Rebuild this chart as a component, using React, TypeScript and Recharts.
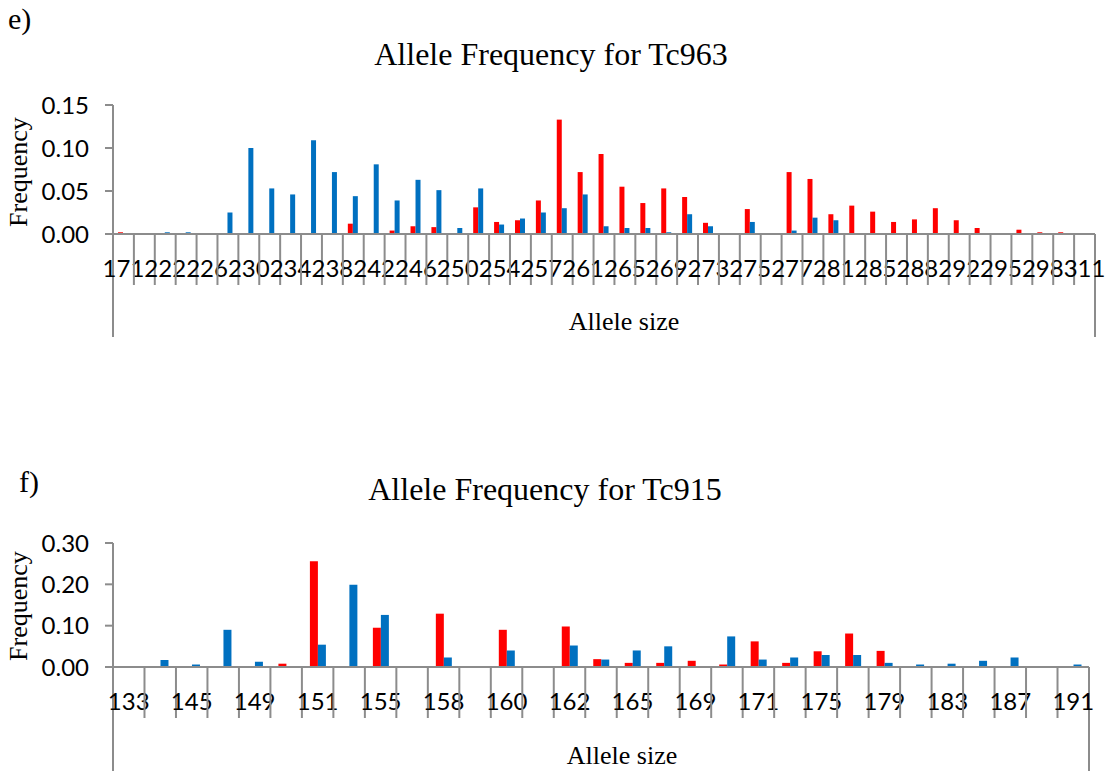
import { BarChart, Bar, XAxis, YAxis } from 'recharts'

const AXIS = '#8c8c8c'
const RED = '#ff0000'
const BLUE = '#0070c0'
const SANS = 'Lato, "Liberation Sans", sans-serif'
const SERIF = '"Liberation Serif", "Times New Roman", serif'

// Tc963 allele sizes (only every other one gets a label on the axis)
const tc963Sizes = [
  171, 220, 222, 224, 226, 228, 230, 232, 234, 236, 238, 240, 242, 244, 246, 248,
  250, 252, 254, 256, 257, 259, 261, 263, 265, 267, 269, 271, 273, 274, 275, 276,
  277, 279, 281, 283, 285, 287, 288, 290, 292, 293, 295, 296, 298, 302, 311,
]
const tc963Red = [
  0.002, 0.001, 0, 0, 0.001, 0, 0, 0, 0, 0.001, 0, 0.012, 0.001, 0.004, 0.009, 0.008,
  0, 0.031, 0.014, 0.016, 0.039, 0.133, 0.072, 0.093, 0.055, 0.036, 0.053, 0.043, 0.013, 0.001, 0.029, 0.001,
  0.072, 0.064, 0.023, 0.033, 0.026, 0.014, 0.017, 0.03, 0.016, 0.007, 0.001, 0.005, 0.002, 0.002, 0.001,
]
const tc963Blue = [
  0, 0, 0.002, 0.002, 0, 0.025, 0.1, 0.053, 0.046, 0.109, 0.072, 0.044, 0.081, 0.039, 0.063, 0.051,
  0.007, 0.053, 0.011, 0.018, 0.025, 0.03, 0.046, 0.009, 0.007, 0.007, 0.002, 0.023, 0.009, 0, 0.014, 0,
  0.004, 0.019, 0.016, 0, 0, 0, 0, 0, 0, 0, 0, 0, 0, 0, 0,
]
const tc963Ticks = [0, 0.05, 0.1, 0.15]

// Tc915
const tc915Sizes = [
  133, 143, 145, 147, 149, 150, 151, 153, 155, 157, 158, 159, 160, 161, 162, 163,
  165, 167, 169, 170, 171, 173, 175, 177, 179, 181, 183, 185, 187, 189, 191,
]
const tc915Red = [
  0, 0, 0, 0, 0, 0.008, 0.256, 0, 0.095, 0.001, 0.129, 0, 0.09, 0.001, 0.098, 0.019,
  0.01, 0.01, 0.015, 0.006, 0.062, 0.01, 0.038, 0.081, 0.039, 0.001, 0, 0, 0, 0, 0,
]
const tc915Blue = [
  0, 0.017, 0.006, 0.09, 0.013, 0, 0.054, 0.199, 0.126, 0, 0.023, 0.001, 0.04, 0, 0.052, 0.018,
  0.04, 0.05, 0, 0.074, 0.018, 0.023, 0.029, 0.029, 0.01, 0.006, 0.008, 0.015, 0.023, 0.001, 0.006,
]
const tc915Ticks = [0, 0.1, 0.2, 0.3]

const WIDTH = 1117
const Y_AXIS_W = 113
const X_AXIS_H = 60

interface PanelProps {
  sizes: number[]
  red: number[]
  blue: number[]
  ticks: number[]
  top: number
  height: number
  plotTop: number
  plotHeight: number
  rightMargin: number
  barSize: number
}

function AllelePanel({ sizes, red, blue, ticks, top, height, plotTop, plotHeight, rightMargin, barSize }: PanelProps) {
  const data = sizes.map((s, i) => ({ size: String(s), red: red[i], blue: blue[i] }))
  const step = (WIDTH - Y_AXIS_W - rightMargin) / sizes.length
  const axisY = plotTop + plotHeight
  const dividerEnd = axisY + 51
  const frameEnd = height

  // Excel-style category axis: dividers between categories, labels on every other one
  const renderTick = (p: any) => {
    const left = p.x - step / 2
    const last = p.index === sizes.length - 1
    return (
      <g>
        <line x1={left} x2={left} y1={axisY} y2={p.index === 0 ? frameEnd : dividerEnd} stroke={AXIS} strokeWidth={2} />
        {last && (
          <line x1={left + step} x2={left + step} y1={axisY} y2={frameEnd} stroke={AXIS} strokeWidth={2} />
        )}
        {p.index % 2 === 0 && (
          <text x={p.x} y={axisY + 43} textAnchor="middle" fontSize={24} fontFamily={SANS} fill="#000">
            {p.payload.value}
          </text>
        )}
      </g>
    )
  }

  return (
    <div style={{ position: 'absolute', left: 0, top }}>
      <BarChart
        width={WIDTH}
        height={height}
        data={data}
        margin={{ top: plotTop, right: rightMargin, bottom: height - axisY - X_AXIS_H, left: 0 }}
        barGap={0}
        barSize={barSize}
      >
        <XAxis
          dataKey="size"
          interval={0}
          height={X_AXIS_H}
          tickSize={0}
          tickMargin={0}
          tickLine={false}
          axisLine={{ stroke: AXIS, strokeWidth: 2 }}
          tick={renderTick}
        />
        <YAxis
          width={Y_AXIS_W}
          domain={[0, ticks[ticks.length - 1]]}
          ticks={ticks}
          interval={0}
          allowDataOverflow
          tickFormatter={(v: number) => v.toFixed(2)}
          tickSize={8}
          tickMargin={16}
          axisLine={{ stroke: AXIS, strokeWidth: 2 }}
          tickLine={{ stroke: AXIS, strokeWidth: 2 }}
          tick={{ fill: '#000', fontSize: 24, fontFamily: SANS }}
        />
        <Bar dataKey="red" fill={RED} isAnimationActive={false} />
        <Bar dataKey="blue" fill={BLUE} isAnimationActive={false} />
      </BarChart>
    </div>
  )
}

export default function App() {
  return (
    <div style={{ position: 'absolute', left: 0, top: 0, width: WIDTH, height: 771, background: '#fff', overflow: 'hidden' }}>
      <AllelePanel
        sizes={tc963Sizes}
        red={tc963Red}
        blue={tc963Blue}
        ticks={tc963Ticks}
        top={0}
        height={337}
        plotTop={105}
        plotHeight={129}
        rightMargin={22}
        barSize={5}
      />
      <AllelePanel
        sizes={tc915Sizes}
        red={tc915Red}
        blue={tc915Blue}
        ticks={tc915Ticks}
        top={440}
        height={331}
        plotTop={103}
        plotHeight={124}
        rightMargin={28}
        barSize={8}
      />
      <svg width={WIDTH} height={771} style={{ position: 'absolute', left: 0, top: 0, pointerEvents: 'none' }}>
        <g fontFamily={SERIF} fill="#000">
          <text x={8} y={29} fontSize={30}>e)</text>
          <text x={551} y={65} fontSize={32} textAnchor="middle">Allele Frequency for Tc963</text>
          <text x={27} y={172} fontSize={26} textAnchor="middle" transform="rotate(-90 27 172)">Frequency</text>
          <text x={624} y={330} fontSize={26} textAnchor="middle">Allele size</text>

          <text x={19} y={492} fontSize={30}>f)</text>
          <text x={545} y={500} fontSize={32} textAnchor="middle">Allele Frequency for Tc915</text>
          <text x={27} y={606} fontSize={26} textAnchor="middle" transform="rotate(-90 27 606)">Frequency</text>
          <text x={622} y={764} fontSize={26} textAnchor="middle">Allele size</text>
        </g>
      </svg>
    </div>
  )
}
